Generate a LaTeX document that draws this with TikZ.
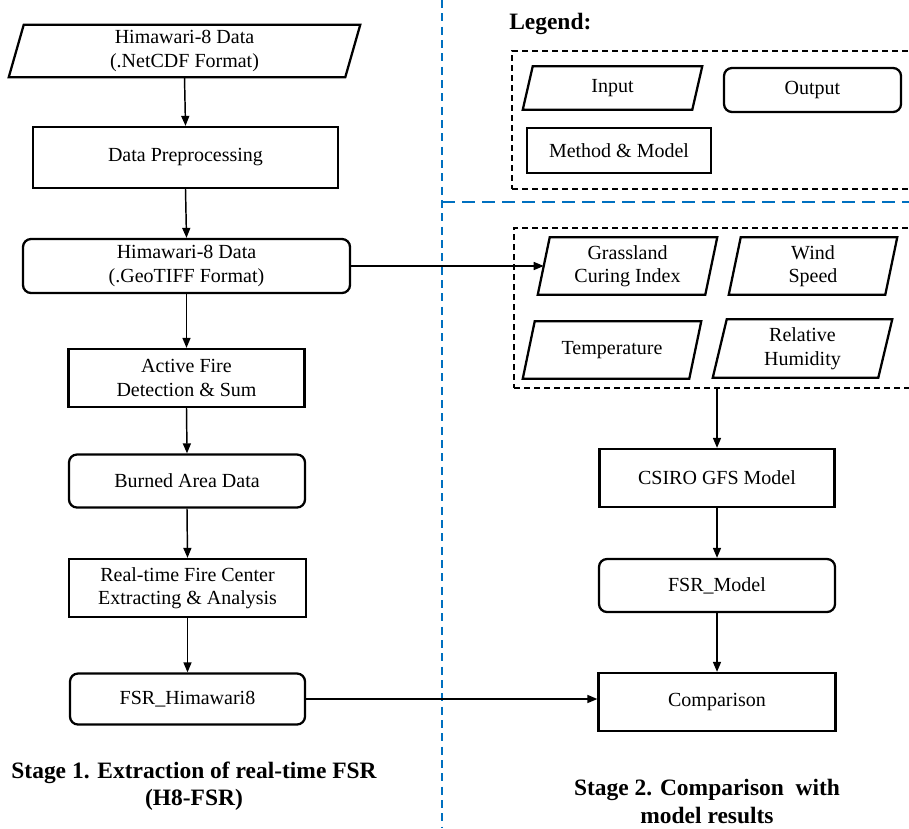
\documentclass[tikz,border=0pt]{standalone}
\usepackage{fontspec}
\setmainfont{Liberation Serif}
\usetikzlibrary{arrows.meta,calc}
\newdimen\pxu \pxu=0.75pt
\definecolor{sepblue}{RGB}{0,112,192}
\newcommand\paranode[7]{%
  \node[inp, minimum width=#4\pxu, minimum height=#5\pxu] (#1) at (#2,#3) {#7};
  \draw[line width=1.7pt, line join=miter] ($(#1.north west)+(#6,0)$) -- (#1.north east) -- ($(#1.south east)-(#6,0)$) -- (#1.south west) -- cycle;
}
\begin{document}
\begin{tikzpicture}[x=0.75pt,y=-0.75pt,
  boxtext/.style={font=\fontsize{15}{17.6}\selectfont, align=center, inner sep=0pt},
  proc/.style={boxtext, draw, line width=1.7pt},
  outp/.style={boxtext, draw, line width=1.7pt, rounded corners=6pt},
  inp/.style={boxtext},
  conn/.style={line width=1.1pt, -{Triangle[length=7.5pt,width=6pt]}},
  vdash/.style={draw=sepblue, line width=1.7pt, dash pattern=on 6pt off 4pt},
  hdash/.style={draw=sepblue, line width=1.7pt, dash pattern=on 10pt off 5pt},
  blkdash/.style={draw, line width=1.6pt, dash pattern=on 4.5pt off 3pt},
  title/.style={font=\bfseries\fontsize{17.6}{20.3}\selectfont, align=center, inner sep=0pt}
]
\useasboundingbox (0,0) rectangle (909,828);
\clip (0,0) rectangle (909,828);

% separators
\coordinate (vtop) at (442,0);
\coordinate (vbot) at (442,828);
\coordinate (hl) at (442,202);
\coordinate (hr) at (909,202);
\draw[vdash] (vtop) -- (vbot);
\draw[hdash] (hl) -- (hr);

% Stage 1 column
\paranode{in1}{184.5}{51}{351}{52}{15}{Himawari-8 Data\\(.NetCDF Format)}
\node[proc, minimum width=305\pxu, minimum height=61\pxu] (prep) at (185.5,157.5) {Data Preprocessing};
\node[outp, minimum width=327\pxu, minimum height=54\pxu] (geo) at (186.5,266) {Himawari-8 Data\\(.GeoTIFF Format)};
\node[proc, minimum width=236\pxu, minimum height=58\pxu] (af) at (186.5,378) {Active Fire\\Detection \& Sum};
\node[outp, minimum width=236\pxu, minimum height=53\pxu] (ba) at (187,481) {Burned Area Data};
\node[proc, minimum width=237\pxu, minimum height=58\pxu] (rt) at (187.5,588) {Real-time Fire Center\\Extracting \& Analysis};
\node[outp, minimum width=235\pxu, minimum height=51\pxu] (fsrh) at (187.5,699) {FSR\_Himawari8};

% Legend
\node[title, anchor=west] (leg) at (509,24) {Legend:};
\node[blkdash, minimum width=419\pxu, minimum height=138\pxu, anchor=north west] (legbox) at (511,50) {};
\paranode{leginp}{612.5}{88}{179}{43}{10}{Input}
\node[outp, minimum width=177\pxu, minimum height=44\pxu] (legout) at (812.5,90) {Output};
\node[proc, minimum width=184\pxu, minimum height=45\pxu] (legmeth) at (619,150.5) {Method \& Model};

% Inputs group
\node[blkdash, minimum width=417\pxu, minimum height=160\pxu, anchor=north west] (inbox) at (513,227) {};
\paranode{gci}{627.5}{266}{179}{57}{12}{Grassland\\Curing Index}
\paranode{ws}{813}{266}{168}{57}{12}{Wind\\Speed}
\paranode{temp}{612}{350}{178}{57}{12}{Temperature}
\paranode{rh}{802.5}{348.5}{179}{58}{14}{Relative\\Humidity}

% Stage 2 column
\node[proc, minimum width=235\pxu, minimum height=58\pxu] (csiro) at (717,478) {CSIRO GFS Model};
\node[outp, minimum width=236\pxu, minimum height=53\pxu] (fsrm) at (717,585.5) {FSR\_Model};
\node[proc, minimum width=237\pxu, minimum height=58\pxu] (comp) at (717,702) {Comparison};

% connectors
\draw[conn] (in1.south) -- (prep.north);
\draw[conn] (prep.south) -- (geo.north);
\draw[conn] (geo.south) -- (af.north);
\draw[conn] (af.south) -- (ba.north);
\draw[conn] (ba.south) -- (rt.north);
\draw[conn] (rt.south) -- (fsrh.north);
\coordinate (gcil) at ($(gci.west)+(6,0)$);
\draw[conn] (geo.east) -- (gcil);
\draw[conn] (csiro.north |- inbox.south) -- (csiro.north);
\draw[conn] (csiro.south) -- (fsrm.north);
\draw[conn] (fsrm.south) -- (comp.north);
\draw[conn] (fsrh.east) -- (comp.west |- fsrh.east);

% titles
\node[title] (s1) at (194,786.5) {Stage 1. Extraction of real-time FSR\\(H8-FSR)};
\node[title] (s2) at (707,801.5) {Stage 2. Comparison\ \ with\\model results};
\end{tikzpicture}
\end{document}
